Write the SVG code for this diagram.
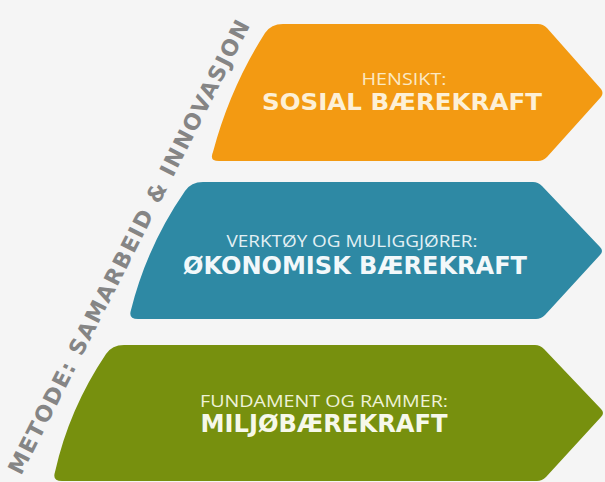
<svg xmlns="http://www.w3.org/2000/svg" xmlns:xlink="http://www.w3.org/1999/xlink" width="605" height="482" viewBox="0 0 605 482">
<style>
.sub{font-family:"Open Sans","DejaVu Sans","Liberation Sans",sans-serif;font-weight:400;text-anchor:middle}
.ttl{font-family:"DejaVu Sans","Liberation Sans",sans-serif;font-weight:700;text-anchor:middle}
.arc{font-family:"DejaVu Sans","Liberation Sans",sans-serif;font-weight:700;fill:#858585;font-size:22px}
</style>
<defs>
<path id="arcpath" d="M 21,476 L 254,18"/>
</defs>
<rect width="605" height="482" fill="#f5f5f5"/>
<g id="metode">
<text class="arc"><textPath href="#arcpath" textLength="506" lengthAdjust="spacing">METODE: SAMARBEID &amp; INNOVASJON</textPath></text>
</g>
<g id="sosial">
<path d="M 283,24 L 538,24 Q 543,24 547,28 L 601,89 Q 604,93 601,97 L 547,157 Q 543,161 538,161 L 219,161 Q 209,161 213,152 Q 230,88 265,33 Q 271,24 283,24 Z" fill="#f39a12"/>
<text class="sub" x="404" y="85" font-size="16" fill="#fbe9c4" textLength="85" lengthAdjust="spacingAndGlyphs">HENSIKT:</text>
<text class="ttl" x="402" y="110" font-size="22.5" fill="#fdf0d6" textLength="280" lengthAdjust="spacingAndGlyphs">SOSIAL BÆREKRAFT</text>
</g>
<g id="okonomisk">
<path d="M 203,182 L 533,182 Q 538,182 542,186 L 600,247 Q 604,251 600,255 L 545,315 Q 541,319 536,319 L 138,319 Q 128,319 131,310 Q 147,246 185,191 Q 191,182 203,182 Z" fill="#2e89a4"/>
<text class="sub" x="352" y="247" font-size="17" fill="#e3f0f4" textLength="251" lengthAdjust="spacingAndGlyphs">VERKTØY OG MULIGGJØRER:</text>
<text class="ttl" x="355" y="274" font-size="24" fill="#f2f8fa" textLength="344" lengthAdjust="spacingAndGlyphs">ØKONOMISK BÆREKRAFT</text>
</g>
<g id="miljo">
<path d="M 124,345 L 535,345 Q 540,345 544,349 L 601,409 Q 605,413 601,417 L 546,477 Q 542,481 537,481 L 62,481 Q 52,481 55,472 Q 69,409 106,354 Q 112,345 124,345 Z" fill="#77900e"/>
<text class="sub" x="324" y="407" font-size="17" fill="#eef2d8" textLength="248" lengthAdjust="spacingAndGlyphs">FUNDAMENT OG RAMMER:</text>
<text class="ttl" x="324" y="432" font-size="24" fill="#f6f8ea" textLength="247" lengthAdjust="spacingAndGlyphs">MILJØBÆREKRAFT</text>
</g>
</svg>
